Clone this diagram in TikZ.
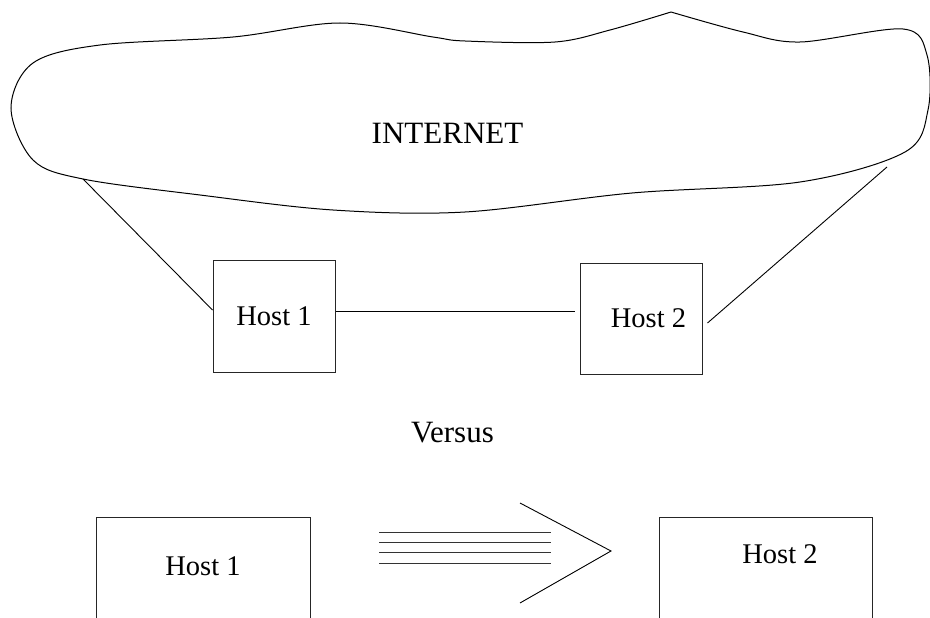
\documentclass[tikz,border=0pt]{standalone}
\usepackage{fontspec}
\setmainfont{Liberation Serif}
\begin{document}
\begin{tikzpicture}[x=1pt,y=-1pt,
  hostbox/.style={draw=black!85,line width=1pt,rectangle,inner sep=0pt,
    font=\fontsize{28.5}{34}\selectfont},
  plain/.style={inner sep=0pt},
  bigtext/.style={inner sep=0pt,font=\fontsize{31}{37}\selectfont},
  wire/.style={line width=0.9pt},
  cloudline/.style={line width=1pt,line join=miter}]
\path[use as bounding box] (0,0) rectangle (930,618);
\clip (0,0) rectangle (930,618);

% the Internet cloud (sharp peak at the top)
\draw[cloudline] plot[smooth,tension=0.55] coordinates {
  (671,12) (743,32) (800,42) (903,29) (927,55) (928,110) (905,152)
  (800,182) (632,193) (465,212) (333,210) (200,195) (83,179) (33,160)
  (11,108) (33,63) (100,45) (233,37) (340,23) (433,37) (465,41)
  (555,42) (610,30) (671,12)};
\node[bigtext] (inet) at (447.5,133.5) {INTERNET};
\coordinate (cl) at (83,179);
\coordinate (cr) at (887,167);

% upper pair of hosts
\node[hostbox,minimum width=122,minimum height=112] (h1) at (274,316) {Host 1};
\node[hostbox,minimum width=122,minimum height=111] (h2) at (641,318.5) {\hspace*{15pt}Host 2};

\draw[wire] (cl) -- ([yshift=6]h1.west);
\draw[wire] ([yshift=5]h1.east) -- ([xshift=-5,yshift=7.5]h2.west);
\draw[wire] ([xshift=5,yshift=-4.5]h2.east) -- (cr);

\node[bigtext] (vs) at (452.5,433) {Versus};

% lower pair of hosts, boxes running off the bottom edge
\node[hostbox,minimum width=213.6,minimum height=130,anchor=north] (b1) at (203.5,517) {};
\node[hostbox,minimum width=213,minimum height=130,anchor=north] (b2) at (765.5,517) {};
\node[plain,font=\fontsize{28.5}{34}\selectfont] (b1t) at (203,566.5) {Host 1};
\node[plain,font=\fontsize{28.5}{34}\selectfont] (b2t) at (780,554.5) {Host 2};

% direct link drawn as a bundle of lines with an open chevron
\foreach \yy in {532.3,542.3,552.7,563}
  \draw[line width=0.9pt,black!80] (379,\yy) -- (551,\yy);
\draw[wire] (520,503) -- (611,551) -- (520,603);
\end{tikzpicture}
\end{document}
